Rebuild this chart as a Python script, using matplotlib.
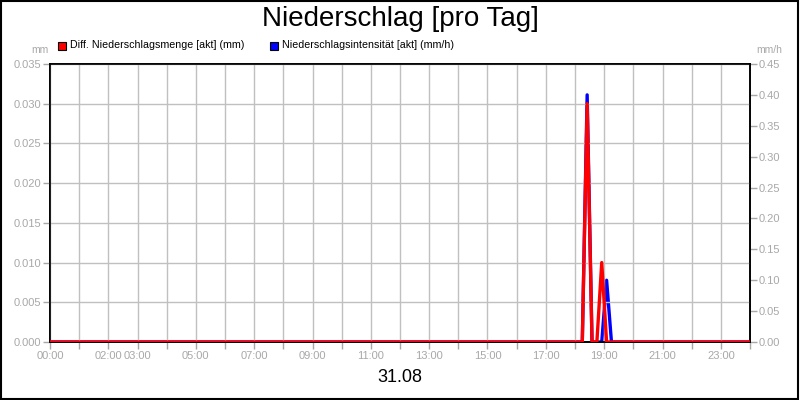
import matplotlib
matplotlib.use("Agg")
import matplotlib.pyplot as plt
from matplotlib.patches import Rectangle

plt.rcParams['font.family'] = ['Liberation Sans', 'DejaVu Sans']

# Zeitpunkte (Stunden des Tages) und Messwerte
zeiten = ["00:00", "18:15", "18:25", "18:35", "18:45", "18:55", "19:05", "19:15", "24:00"]
menge_mm = [0.0, 0.0, 0.030, 0.0, 0.0, 0.010, 0.0, 0.0, 0.0]
intensitaet_mmh = [0.0, 0.0, 0.40, 0.0, 0.0, 0.0, 0.10, 0.0, 0.0]

x_labels = ["00:00", "02:00", "03:00", "05:00", "07:00", "09:00", "11:00",
            "13:00", "15:00", "17:00", "19:00", "21:00", "23:00"]

def to_hours(s):
    h, m = s.split(":")
    return int(h) + int(m) / 60.0

t = [to_hours(z) for z in zeiten]
grau = "#a8a8a8"

fig = plt.figure(figsize=(8, 4), dpi=100)
ax = fig.add_axes([0.0625, 0.145, 0.875, 0.695])
ax2 = ax.twinx()

ax2.plot(t, intensitaet_mmh, color="#0000ff", lw=2.4, zorder=2)
ax.plot(t, menge_mm, color="#ff0000", lw=2.4, zorder=3)
ax.set_zorder(ax2.get_zorder() + 1)
ax.patch.set_visible(False)

ax.set_xlim(0, 24)
ax.set_ylim(0, 0.035)
ax2.set_ylim(0, 0.45)

ax.set_yticks([i * 0.005 for i in range(8)])
ax.set_yticklabels(["%.3f" % (i * 0.005) for i in range(8)])
ax2.set_yticks([i * 0.05 for i in range(10)])
ax2.set_yticklabels(["%.2f" % (i * 0.05) for i in range(10)])

ax.set_xticks(range(25))
lab = []
for h in range(25):
    s = "%02d:00" % h
    lab.append(s if s in x_labels else "")
ax.set_xticklabels(lab)

ax.grid(True, color="#c0c0c0", lw=1)
for a in (ax, ax2):
    a.tick_params(colors=grau, labelsize=8, length=5, width=1, labelcolor=grau, pad=1.5)
    for sp in a.spines.values():
        sp.set_color("black")
        sp.set_linewidth(1.2)
ax.axhline(0, color="black", lw=1.2, zorder=1)

fig.text(0.5, 0.952, "Niederschlag [pro Tag]", ha="center", va="center", fontsize=20)
fig.text(0.5, 0.055, "31.08", ha="center", va="center", fontsize=13)
fig.text(0.05, 0.875, "mm", ha="center", va="center", fontsize=7.5, color=grau)
fig.text(0.962, 0.875, "mm/h", ha="center", va="center", fontsize=7.5, color=grau)

# Legende
fig.patches.append(Rectangle((0.0725, 0.875), 0.010, 0.02, transform=fig.transFigure,
                             facecolor="#ff0000", edgecolor="black", lw=0.8))
fig.text(0.087, 0.887, "Diff. Niederschlagsmenge [akt] (mm)", ha="left", va="center", fontsize=7.7)
fig.patches.append(Rectangle((0.3375, 0.875), 0.010, 0.02, transform=fig.transFigure,
                             facecolor="#0000ff", edgecolor="black", lw=0.8))
fig.text(0.352, 0.887, "Niederschlagsintensität [akt] (mm/h)", ha="left", va="center", fontsize=7.7)

fig.patches.append(Rectangle((0.001, 0.002), 0.997, 0.995, transform=fig.transFigure,
                             fill=False, edgecolor="black", lw=1.5))

fig.savefig("out.png", dpi=100)
